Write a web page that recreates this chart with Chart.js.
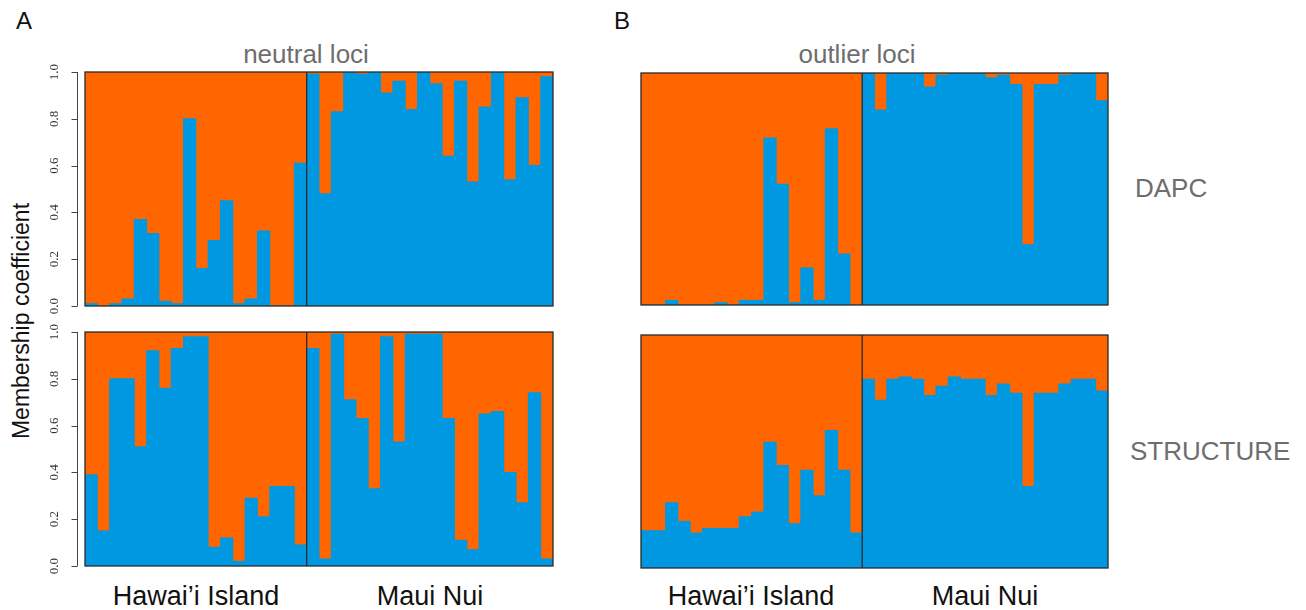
<!DOCTYPE html>
<html>
<head>
<meta charset="utf-8">
<script src="https://cdn.jsdelivr.net/npm/chart.js@4.4.1/dist/chart.umd.min.js"></script>
<style>
html,body{margin:0;padding:0;background:#fff;}
#wrap{position:relative;width:1306px;height:610px;overflow:hidden;background:#fff;font-family:"Liberation Sans",Arial,sans-serif;}
.t{position:absolute;white-space:nowrap;line-height:1;}
.c{transform:translateX(-50%);}
canvas{position:absolute;}
</style>
</head>
<body>
<div id="wrap">
  <div class="t" style="left:16px;top:9px;font-size:24px;color:#111;">A</div>
  <div class="t" style="left:614px;top:9px;font-size:24px;color:#111;">B</div>
  <div class="t c" id="titleA" style="left:306px;top:41px;font-size:26px;color:#6e6e6e;"></div>
  <div class="t c" id="titleB" style="left:857px;top:41px;font-size:26px;color:#6e6e6e;"></div>
  <div class="t" id="rowTop" style="left:1135px;top:175px;font-size:26px;color:#6e6e6e;"></div>
  <div class="t" id="rowBot" style="left:1130px;top:438px;font-size:26px;color:#6e6e6e;"></div>
  <div class="t" id="yTitle" style="left:21px;top:321px;font-size:23px;color:#111;transform:translate(-50%,-50%) rotate(-90deg);"></div>
  <div class="t c" id="gA1" style="left:196px;top:583px;font-size:27px;color:#111;"></div>
  <div class="t c" id="gA2" style="left:430px;top:583px;font-size:27px;color:#111;"></div>
  <div class="t c" id="gB1" style="left:751px;top:583px;font-size:27px;color:#111;"></div>
  <div class="t c" id="gB2" style="left:985px;top:583px;font-size:27px;color:#111;"></div>
  <canvas id="cA1" width="525" height="254" style="left:30px;top:62px;width:525px;height:254px;"></canvas>
  <canvas id="cA2" width="525" height="254" style="left:30px;top:322px;width:525px;height:254px;"></canvas>
  <canvas id="cB1" width="471" height="236" style="left:639px;top:71px;width:471px;height:236px;"></canvas>
  <canvas id="cB2" width="471" height="237" style="left:639px;top:333px;width:471px;height:237px;"></canvas>
</div>
<script>
// ---- data ----
const islandGroups = ['Hawai\u2019i Island', 'Maui Nui'];
const groupSizes = [18, 20];
const sampleIds = [
  'H1','H2','H3','H4','H5','H6','H7','H8','H9','H10','H11','H12','H13','H14','H15','H16','H17','H18',
  'M1','M2','M3','M4','M5','M6','M7','M8','M9','M10','M11','M12','M13','M14','M15','M16','M17','M18','M19','M20'
];
const panelTitles = ['neutral loci', 'outlier loci'];
const methodLabels = ['DAPC', 'STRUCTURE'];
const yAxisTitle = 'Membership coefficient';
const yTickLabels = ['0.0', '0.2', '0.4', '0.6', '0.8', '1.0'];

// cluster 1 (blue) and cluster 2 (orange) membership per sample
const neutralDapcBlue = [0.01,0.00,0.01,0.03,0.37,0.31,0.02,0.01,0.80,0.16,0.28,0.45,0.01,0.03,0.32,0.00,0.00,0.61,
  0.99,0.48,0.83,1.00,0.99,1.00,0.91,0.96,0.84,1.00,0.95,0.64,0.96,0.53,0.85,1.00,0.54,0.89,0.60,0.98];
const neutralDapcOrange = [0.99,1.00,0.99,0.97,0.63,0.69,0.98,0.99,0.20,0.84,0.72,0.55,0.99,0.97,0.68,1.00,1.00,0.39,
  0.01,0.52,0.17,0.00,0.01,0.00,0.09,0.04,0.16,0.00,0.05,0.36,0.04,0.47,0.15,0.00,0.46,0.11,0.40,0.02];

const neutralStructureBlue = [0.39,0.15,0.80,0.80,0.51,0.92,0.76,0.93,0.98,0.98,0.08,0.12,0.02,0.29,0.21,0.34,0.34,0.09,
  0.93,0.03,0.99,0.71,0.63,0.33,0.98,0.53,0.99,0.99,0.99,0.63,0.11,0.07,0.65,0.66,0.40,0.27,0.74,0.03];
const neutralStructureOrange = [0.61,0.85,0.20,0.20,0.49,0.08,0.24,0.07,0.02,0.02,0.92,0.88,0.98,0.71,0.79,0.66,0.66,0.91,
  0.07,0.97,0.01,0.29,0.37,0.67,0.02,0.47,0.01,0.01,0.01,0.37,0.89,0.93,0.35,0.34,0.60,0.73,0.26,0.97];

const outlierDapcBlue = [0.00,0.00,0.02,0.00,0.00,0.00,0.01,0.00,0.02,0.02,0.72,0.52,0.01,0.16,0.02,0.76,0.22,0.00,
  1.00,0.84,1.00,1.00,1.00,0.94,0.99,1.00,1.00,1.00,0.98,0.99,0.95,0.26,0.95,0.95,0.99,1.00,1.00,0.88];
const outlierDapcOrange = [1.00,1.00,0.98,1.00,1.00,1.00,0.99,1.00,0.98,0.98,0.28,0.48,0.99,0.84,0.98,0.24,0.78,1.00,
  0.00,0.16,0.00,0.00,0.00,0.06,0.01,0.00,0.00,0.00,0.02,0.01,0.05,0.74,0.05,0.05,0.01,0.00,0.00,0.12];

const outlierStructureBlue = [0.16,0.16,0.28,0.20,0.15,0.17,0.17,0.17,0.22,0.24,0.54,0.44,0.19,0.42,0.31,0.59,0.42,0.15,
  0.81,0.72,0.81,0.82,0.81,0.74,0.78,0.82,0.81,0.81,0.74,0.79,0.75,0.35,0.75,0.75,0.79,0.81,0.81,0.76];
const outlierStructureOrange = [0.84,0.84,0.72,0.80,0.85,0.83,0.83,0.83,0.78,0.76,0.46,0.56,0.81,0.58,0.69,0.41,0.58,0.85,
  0.19,0.28,0.19,0.18,0.19,0.26,0.22,0.18,0.19,0.19,0.26,0.21,0.25,0.65,0.25,0.25,0.21,0.19,0.19,0.24];

// ---- text ----
document.getElementById('titleA').textContent = panelTitles[0];
document.getElementById('titleB').textContent = panelTitles[1];
document.getElementById('rowTop').textContent = methodLabels[0];
document.getElementById('rowBot').textContent = methodLabels[1];
document.getElementById('yTitle').textContent = yAxisTitle;
document.getElementById('gA1').textContent = islandGroups[0];
document.getElementById('gA2').textContent = islandGroups[1];
document.getElementById('gB1').textContent = islandGroups[0];
document.getElementById('gB2').textContent = islandGroups[1];

const BLUE = '#0098e0';
const ORANGE = '#ff6600';

const framePlugin = {
  id: 'frame',
  afterDatasetsDraw(chart) {
    const { ctx, chartArea: a, scales } = chart;
    const x = scales.x, y = scales.y;
    ctx.save();
    ctx.strokeStyle = '#2a2a2a';
    ctx.lineWidth = 1.3;
    ctx.strokeRect(a.left, a.top, a.right - a.left, a.bottom - a.top);
    const n = groupSizes[0];
    const bx = (x.getPixelForValue(n - 1) + x.getPixelForValue(n)) / 2;
    ctx.beginPath();
    ctx.moveTo(bx, a.top);
    ctx.lineTo(bx, a.bottom);
    ctx.stroke();
    // R-style offset axis with ticks
    if (chart.options.showRAxis) {
      const ax = Math.round(a.left - 8) + 0.5;
      ctx.strokeStyle = '#444';
      ctx.lineWidth = 1;
      ctx.beginPath();
      ctx.moveTo(ax, y.getPixelForValue(0));
      ctx.lineTo(ax, y.getPixelForValue(1));
      y.ticks.forEach(t => {
        const py = Math.round(y.getPixelForValue(t.value)) + 0.5;
        ctx.moveTo(ax, py);
        ctx.lineTo(ax - 6, py);
      });
      ctx.stroke();
    }
    ctx.restore();
  }
};

function makeChart(id, blue, orange, withAxis) {
  new Chart(document.getElementById(id), {
    type: 'bar',
    data: {
      labels: sampleIds,
      datasets: [
        { data: blue, backgroundColor: BLUE, borderWidth: 0, inflateAmount: 0.5, barPercentage: 1, categoryPercentage: 1 },
        { data: orange, backgroundColor: ORANGE, borderWidth: 0, inflateAmount: 0.5, barPercentage: 1, categoryPercentage: 1 }
      ]
    },
    options: {
      responsive: false,
      animation: false,
      events: [],
      showRAxis: withAxis,
      layout: { padding: withAxis ? { top: 10, bottom: 10, left: 0, right: 2 } : 2 },
      plugins: { legend: { display: false }, tooltip: { enabled: false } },
      scales: {
        x: { stacked: true, display: false },
        y: {
          stacked: true, min: 0, max: 1, display: withAxis,
          ticks: {
            stepSize: 0.2, minRotation: 90, maxRotation: 90, crossAlign: 'center',
            padding: 22, color: '#333',
            font: { family: 'Liberation Serif', size: 13 },
            callback: (v, i) => yTickLabels[i]
          },
          grid: { display: false, drawTicks: false },
          border: { display: false },
          afterFit(s) {
            if (withAxis) { s.width = 55; }
            s.paddingTop = 0; s.paddingBottom = 0;
          }
        }
      }
    },
    plugins: [framePlugin]
  });
}

makeChart('cA1', neutralDapcBlue, neutralDapcOrange, true);
makeChart('cA2', neutralStructureBlue, neutralStructureOrange, true);
makeChart('cB1', outlierDapcBlue, outlierDapcOrange, false);
makeChart('cB2', outlierStructureBlue, outlierStructureOrange, false);
</script>
</body>
</html>
